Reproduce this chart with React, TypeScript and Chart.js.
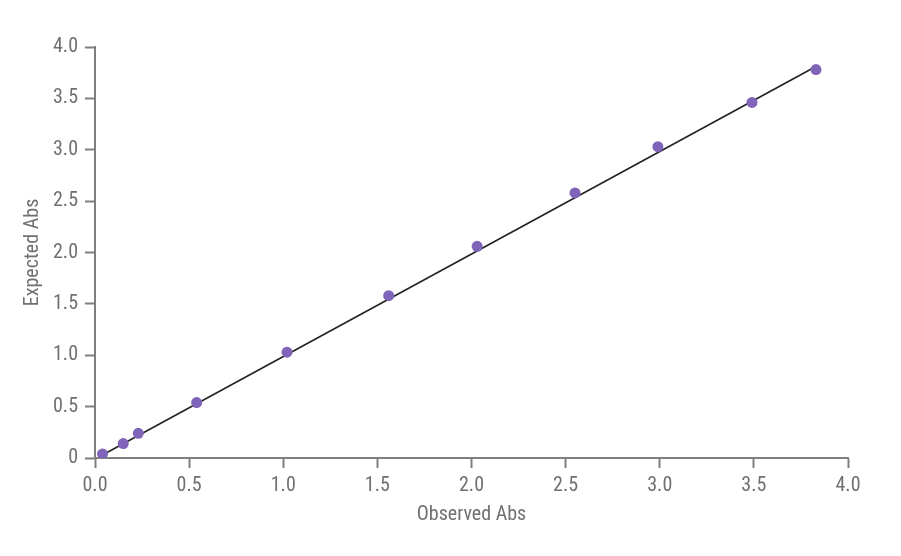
import React, { useEffect, useRef } from "react";
import { Chart, registerables } from "chart.js";

Chart.register(...registerables);

const observed = [0.04, 0.15, 0.23, 0.54, 1.02, 1.56, 2.03, 2.55, 2.99, 3.49, 3.83];
const expected = [0.04, 0.14, 0.24, 0.54, 1.03, 1.58, 2.06, 2.58, 3.03, 3.46, 3.78];
const fitX = [0.03, 3.81];
const fitY = [0.02, 3.79];
const xTitle = "Observed Abs";
const yTitle = "Expected Abs";

const FONT = "'Liberation Sans Narrow', 'Roboto Condensed', 'Roboto', sans-serif";
const GRAY = "#707070";
const AXIS = "#7f7f7f";

export default function App() {
  const ref = useRef<HTMLCanvasElement | null>(null);
  useEffect(() => {
    if (!ref.current) return;
    const chart = new Chart(ref.current, {
      type: "scatter",
      data: {
        datasets: [
          {
            label: "Samples",
            data: observed.map((x, i) => ({ x, y: expected[i] })),
            backgroundColor: "#8064ba",
            borderColor: "#8064ba",
            pointRadius: 5.5,
            pointBorderWidth: 0,
            order: 0,
          },
          {
            type: "line",
            label: "Fit",
            data: fitX.map((x, i) => ({ x, y: fitY[i] })),
            borderColor: "#222222",
            borderWidth: 1.6,
            pointRadius: 0,
            showLine: true,
            fill: false,
            order: 1,
          } as any,
        ],
      },
      options: {
        animation: false,
        responsive: true,
        maintainAspectRatio: false,
        layout: { padding: { top: 39, right: 45, bottom: 0, left: 0 } },
        plugins: { legend: { display: false }, tooltip: { enabled: false } },
        scales: {
          x: {
            type: "linear",
            min: 0,
            max: 4,
            afterFit: (s: any) => {
              s.height = 90;
            },
            ticks: {
              stepSize: 0.5,
              padding: 6,
              color: GRAY,
              font: { family: FONT, size: 20 },
              callback: (v: any) => Number(v).toFixed(1),
            },
            grid: {
              drawOnChartArea: false,
              drawTicks: true,
              tickLength: 10,
              tickWidth: 2,
              tickColor: AXIS,
            },
            border: { display: true, color: AXIS, width: 2 },
            title: {
              display: true,
              text: xTitle,
              color: GRAY,
              font: { family: FONT, size: 20 },
              padding: { top: 0, bottom: 21 },
            },
          },
          y: {
            type: "linear",
            min: 0,
            max: 4,
            afterFit: (s: any) => {
              s.width = 87;
            },
            ticks: {
              stepSize: 0.5,
              padding: 7,
              color: GRAY,
              font: { family: FONT, size: 20 },
              callback: (v: any) => (Number(v) === 0 ? "0" : Number(v).toFixed(1)),
            },
            grid: {
              drawOnChartArea: false,
              drawTicks: true,
              tickLength: 10,
              tickWidth: 2,
              tickColor: AXIS,
            },
            border: { display: true, color: AXIS, width: 2 },
            title: {
              display: true,
              text: yTitle,
              color: GRAY,
              font: { family: FONT, size: 20 },
              padding: { top: 13, bottom: 0 },
            },
          },
        },
      },
    });
    return () => chart.destroy();
  }, []);
  return (
    <div style={{ position: "relative", width: 885, height: 540 }}>
      <canvas ref={ref} />
    </div>
  );
}
